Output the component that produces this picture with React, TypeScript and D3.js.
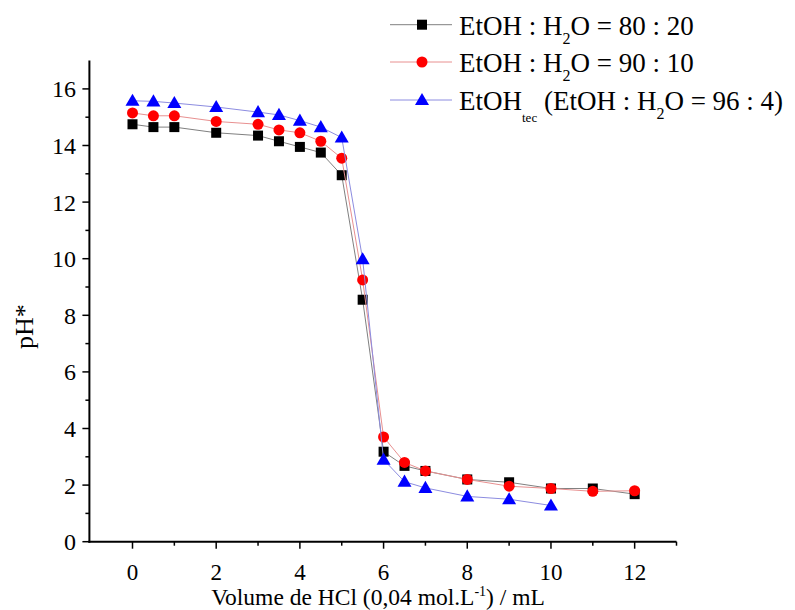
import React from "react";
import * as d3 from "d3";

const volumesAll = [0, 0.5, 1, 2, 3, 3.5, 4, 4.5, 5, 5.5, 6, 6.5, 7, 8, 9, 10, 11, 12];
const ph8020 = [14.75, 14.65, 14.65, 14.45, 14.35, 14.15, 13.95, 13.75, 12.95, 8.55, 3.18, 2.68, 2.5, 2.2, 2.1, 1.88, 1.88, 1.68];
const ph9010 = [15.15, 15.05, 15.05, 14.85, 14.75, 14.55, 14.45, 14.15, 13.55, 9.25, 3.7, 2.8, 2.5, 2.2, 1.96, 1.88, 1.78, 1.8];
const volumesTec = [0, 0.5, 1, 2, 3, 3.5, 4, 4.5, 5, 5.5, 6, 6.5, 7, 8, 9, 10];
const phTec = [15.58, 15.56, 15.5, 15.36, 15.18, 15.08, 14.88, 14.65, 14.28, 9.98, 2.9, 2.12, 1.9, 1.6, 1.5, 1.28];

const xMajorTicks = [0, 2, 4, 6, 8, 10, 12];
const xMinorTicks = [1, 3, 5, 7, 9, 11, 13];
const yMajorTicks = [0, 2, 4, 6, 8, 10, 12, 14, 16];
const yMinorTicks = [1, 3, 5, 7, 9, 11, 13, 15];

const W = 795;
const H = 610;
const FONT = "'Liberation Serif', 'Times New Roman', serif";

const x = d3.scaleLinear().domain([-1.03, 13]).range([89.4, 676.5]);
const y = d3.scaleLinear().domain([0, 17]).range([541.7, 60.6]);

type Series = {
  xs: number[];
  ys: number[];
  line: string;
  fill: string;
  shape: "square" | "circle" | "triangle";
};

const series: Series[] = [
  { xs: volumesAll, ys: ph8020, line: "#808080", fill: "#000000", shape: "square" },
  { xs: volumesAll, ys: ph9010, line: "#e89090", fill: "#ff0000", shape: "circle" },
  { xs: volumesTec, ys: phTec, line: "#8c8ce0", fill: "#0000ff", shape: "triangle" },
];

function Marker({ shape, cx, cy, fill }: { shape: string; cx: number; cy: number; fill: string }) {
  if (shape === "square") return <rect x={cx - 5} y={cy - 5} width={10} height={10} fill={fill} />;
  if (shape === "circle") return <circle cx={cx} cy={cy} r={5.5} fill={fill} />;
  const tri = d3.symbol().type(d3.symbolTriangle).size(85)();
  return <path d={tri || ""} transform={`translate(${cx},${cy + 1})`} fill={fill} />;
}

const legendLabels = [
  { main: "EtOH : H", sub: "2", rest: "O = 80 : 20" },
  { main: "EtOH : H", sub: "2", rest: "O = 90 : 10" },
];

export default function App() {
  const lineGen = d3.line<[number, number]>().x((d) => x(d[0])).y((d) => y(d[1]));
  const legendY = [24.7, 62, 100];
  const LF = 27;
  const SF = 16;
  return (
    <svg width={W} height={H} style={{ position: "absolute", left: 0, top: 0, background: "#fff" }} fontFamily={FONT}>
      <rect x={0} y={0} width={W} height={H} fill="#fff" />
      {/* axes */}
      <line x1={x(-1.03)} x2={x(-1.03)} y1={y(17)} y2={y(0) + 1} stroke="#000" strokeWidth={2} />
      <line x1={x(-1.03) - 1} x2={x(13)} y1={y(0)} y2={y(0)} stroke="#000" strokeWidth={2} />
      {yMajorTicks.map((t) => (
        <g key={"ym" + t}>
          <line x1={x(-1.03) - 7} x2={x(-1.03)} y1={y(t)} y2={y(t)} stroke="#000" strokeWidth={1.5} />
          <text x={76} y={y(t)} dy="0.35em" textAnchor="end" fontSize={24}>{t}</text>
        </g>
      ))}
      {yMinorTicks.map((t) => (
        <line key={"yn" + t} x1={x(-1.03) - 4} x2={x(-1.03)} y1={y(t)} y2={y(t)} stroke="#000" strokeWidth={1.5} />
      ))}
      {xMajorTicks.map((t) => (
        <g key={"xm" + t}>
          <line x1={x(t)} x2={x(t)} y1={y(0)} y2={y(0) + 7} stroke="#000" strokeWidth={1.5} />
          <text x={x(t)} y={580} textAnchor="middle" fontSize={23}>{t}</text>
        </g>
      ))}
      {xMinorTicks.map((t) => (
        <line key={"xn" + t} x1={x(t)} x2={x(t)} y1={y(0)} y2={y(0) + 4} stroke="#000" strokeWidth={1.5} />
      ))}
      {/* axis titles */}
      <text x={378} y={605} textAnchor="middle" fontSize={23.5}>
        Volume de HCl (0,04 mol.L<tspan dy={-9} fontSize={14}>-1</tspan><tspan dy={9}>) / mL</tspan>
      </text>
      <text transform={`translate(33,${y(7.6)}) rotate(-90)`} textAnchor="middle" fontSize={26}>pH*</text>
      {/* series */}
      {series.map((s, i) => (
        <g key={"s" + i}>
          <path d={lineGen(s.xs.map((v, j) => [v, s.ys[j]] as [number, number])) || ""} fill="none" stroke={s.line} strokeWidth={1} />
          {s.xs.map((v, j) => (
            <Marker key={j} shape={s.shape} cx={x(v)} cy={y(s.ys[j])} fill={s.fill} />
          ))}
        </g>
      ))}
      {/* legend */}
      {series.map((s, i) => (
        <g key={"l" + i}>
          <line x1={390} x2={452} y1={legendY[i]} y2={legendY[i]} stroke={s.line} strokeWidth={1} />
          <Marker shape={s.shape} cx={422} cy={legendY[i]} fill={s.fill} />
        </g>
      ))}
      {legendLabels.map((l, i) => (
        <text key={"lt" + i} x={459} y={legendY[i] + 10} fontSize={LF}>
          {l.main}
          <tspan dy={9} fontSize={SF}>{l.sub}</tspan>
          <tspan dy={-9}>{l.rest}</tspan>
        </text>
      ))}
      <text x={459} y={legendY[2] + 10} fontSize={LF}>
        EtOH<tspan dy={12} fontSize={13}>tec</tspan>
        <tspan dy={-12}> (EtOH : H</tspan>
        <tspan dy={9} fontSize={SF}>2</tspan>
        <tspan dy={-9}>O = 96 : 4)</tspan>
      </text>
    </svg>
  );
}
